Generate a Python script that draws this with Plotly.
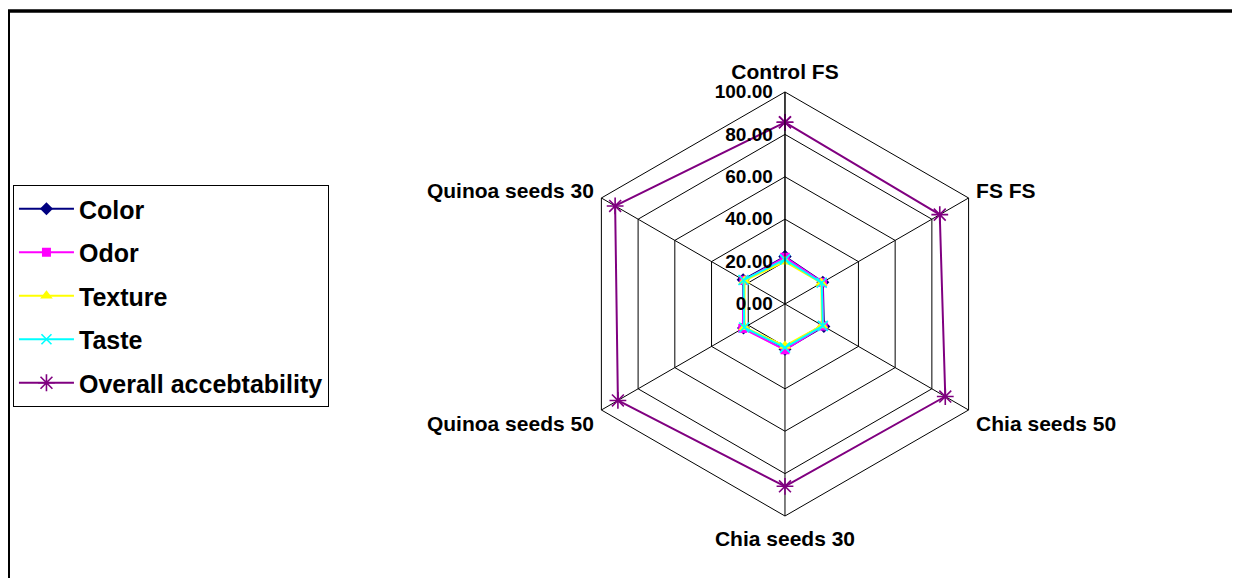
import plotly.graph_objects as go

categories = ["Control FS", "FS FS", "Chia seeds 50", "Chia seeds 30", "Quinoa seeds 50", "Quinoa seeds 30"]
color_vals = [22.4, 20.6, 21.2, 21.4, 22.6, 22.8]
odor_vals = [22.0, 20.4, 20.8, 21.6, 23.0, 22.4]
texture_vals = [20.0, 19.8, 20.2, 19.8, 22.0, 22.0]
taste_vals = [21.0, 20.0, 20.6, 20.6, 22.2, 22.6]
overall_vals = [85.7, 84.3, 87.3, 86.0, 91.0, 92.5]
radial_ticks = [0, 20, 40, 60, 80, 100]

series = [
    ("Color", color_vals, "#000080", "diamond", 10),
    ("Odor", odor_vals, "#FF00FF", "square", 9),
    ("Texture", texture_vals, "#FFFF00", "triangle-up", 11),
    ("Taste", taste_vals, "#00FFFF", "x-thin-open", 10),
    ("Overall accebtability", overall_vals, "#800080", "asterisk-open", 14),
]

fig = go.Figure()
theta_closed = categories + categories[:1]
for name, vals, col, sym, sz in series:
    marker = dict(symbol=sym, size=sz, color=col)
    if sym.endswith("-open"):
        marker["line"] = dict(color=col, width=1.6)
    fig.add_trace(go.Scatterpolar(
        r=vals + vals[:1], theta=theta_closed, name=name, legendgroup=name,
        mode="lines+markers", line=dict(color=col, width=2), marker=marker,
    ))

font = "Liberation Sans, Arial, sans-serif"
fig.update_layout(
    width=1240, height=578,
    margin=dict(l=0, r=0, t=0, b=0),
    paper_bgcolor="white", plot_bgcolor="white",
    font=dict(family=font, color="black"),
    polar=dict(
        domain=dict(x=[0.4556, 0.7976], y=[0.1211, 0.8547]),
        bgcolor="white",
        gridshape="linear",
        angularaxis=dict(
            direction="clockwise", rotation=90,
            linecolor="black", linewidth=1, gridcolor="black", gridwidth=1,
            showline=True, ticks="outside", ticklen=4, tickcolor="rgba(0,0,0,0)",
            tickfont=dict(family=font, size=21, color="black", weight="bold"),
        ),
        radialaxis=dict(
            range=[0, 100], tickvals=radial_ticks, tickformat=".2f",
            angle=90, side="counterclockwise", tickangle=90,
            showline=True, linecolor="black", linewidth=1,
            gridcolor="black", gridwidth=1,
            ticks="outside", ticklen=5, tickcolor="rgba(0,0,0,0)",
            tickfont=dict(family=font, size=19, color="black", weight="bold"),
        ),
    ),
    legend=dict(
        x=0.004, y=1 - 177 / 578, xanchor="left", yanchor="top",
        bordercolor="black", borderwidth=1, bgcolor="white",
        font=dict(family=font, size=25, color="black", weight="bold"),
        tracegroupgap=8, itemwidth=55,
    ),
    shapes=[
        dict(type="line", xref="paper", yref="paper", x0=1 / 1240, x1=1 / 1240,
             y0=-0.05, y1=1 - 3 / 578, line=dict(color="black", width=2)),
        dict(type="line", xref="paper", yref="paper", x0=0, x1=1.02,
             y0=1 - 3 / 578, y1=1 - 3 / 578, line=dict(color="black", width=3.5)),
    ],
)

fig.write_html("out.html")
